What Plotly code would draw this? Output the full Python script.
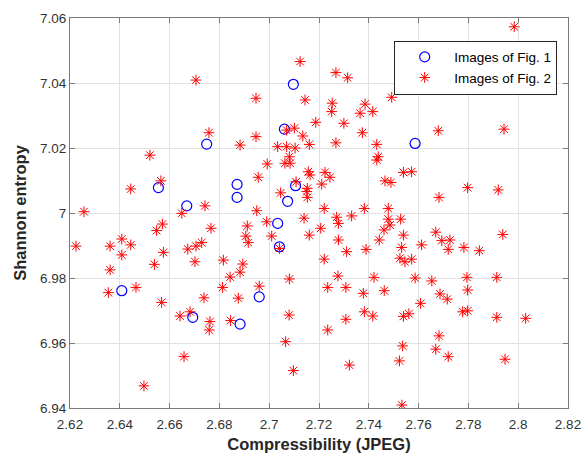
import plotly.graph_objects as go

# Images of Fig. 1 (blue circles)
fig1_x = [2.7097, 2.7061, 2.6749, 2.7586, 2.7106, 2.6555, 2.6871, 2.6871,
          2.7074, 2.6669, 2.7034, 2.7041, 2.6408, 2.6960, 2.6693, 2.6883]
fig1_y = [7.0396, 7.0258, 7.0212, 7.0214, 7.0084, 7.0078, 7.0088, 7.0048,
          7.0036, 7.0022, 6.9968, 6.9896, 6.9761, 6.9742, 6.9679, 6.9658]

# Images of Fig. 2 (red asterisks)
fig2_x = [2.6706, 2.6758, 2.7124, 2.7268, 2.7315, 2.7492, 2.6947, 2.7144, 2.7253, 2.7251,
          2.7385, 2.7365, 2.7416, 2.7187, 2.7300, 2.7101, 2.7070, 2.7374, 2.6947, 2.7135,
          2.6883, 2.7161, 2.7268, 2.7432, 2.7034, 2.7070, 2.7104, 2.7984, 2.7679, 2.7943,
          2.6521, 2.6565, 2.6444, 2.6256, 2.6649, 2.6742, 2.6571, 2.6548, 2.6766, 2.6224,
          2.6361, 2.6408, 2.6444, 2.6408, 2.6575, 2.6673, 2.6706, 2.6729, 2.6539, 2.6702,
          2.6816, 2.6361, 2.6843, 2.7081, 2.7063, 2.7084, 2.6992, 2.7438, 2.7432, 2.7157,
          2.7164, 2.7224, 2.7244, 2.6956, 2.7211, 2.7539, 2.7465, 2.7489, 2.7153, 2.7151,
          2.7046, 2.7153, 2.7108, 2.7221, 2.7382, 2.7478, 2.6950, 2.7140, 2.7271, 2.7278,
          2.7331, 2.7478, 2.7528, 2.6990, 2.6912, 2.7485, 2.7461, 2.7207, 2.7010, 2.6906,
          2.7161, 2.7539, 2.7442, 2.6916, 2.7278, 2.7041, 2.7389, 2.7311, 2.7532, 2.7525,
          2.7545, 2.7221, 2.6894, 2.6883, 2.7081, 2.7276, 2.7421, 2.7572, 2.7797, 2.7682,
          2.7920, 2.7669, 2.7938, 2.7612, 2.7693, 2.7726, 2.7719, 2.7782, 2.7844, 2.7572,
          2.7586, 2.7653, 2.7794, 2.7914, 2.6354, 2.6465, 2.6568, 2.6738, 2.6813, 2.6876,
          2.6642, 2.6682, 2.6762, 2.6759, 2.6845, 2.6658, 2.6497, 2.6960, 2.7080, 2.7066,
          2.7097, 2.7235, 2.7308, 2.7378, 2.7462, 2.7235, 2.7308, 2.7382, 2.7416, 2.7539,
          2.7561, 2.7322, 2.7536, 2.7523, 2.7533, 2.7797, 2.7686, 2.7715, 2.7608, 2.7777,
          2.7797, 2.7914, 2.8030, 2.7682, 2.7669, 2.7719, 2.7947]
fig2_y = [7.0409, 7.0247, 7.0466, 7.0432, 7.0416, 7.0356, 7.0353, 7.0348, 7.0338, 7.0312,
          7.0335, 7.0307, 7.0312, 7.0279, 7.0276, 7.0261, 7.0255, 7.0247, 7.0235, 7.0237,
          7.0209, 7.0211, 7.0216, 7.0211, 7.0204, 7.0204, 7.0200, 7.0573, 7.0253, 7.0258,
          7.0178, 7.0099, 7.0074, 7.0004, 6.9999, 7.0022, 6.9966, 6.9946, 6.9953, 6.9898,
          6.9898, 6.9920, 6.9902, 6.9871, 6.9879, 6.9889, 6.9898, 6.9909, 6.9842, 6.9850,
          6.9855, 6.9825, 6.9803, 7.0173, 7.0153, 7.0153, 7.0151, 7.0173, 7.0163, 7.0127,
          7.0117, 7.0125, 7.0110, 7.0110, 7.0089, 7.0125, 7.0099, 7.0094, 7.0076, 7.0066,
          7.0062, 7.0048, 7.0096, 7.0014, 7.0014, 7.0014, 7.0007, 6.9984, 6.9987, 6.9968,
          6.9991, 6.9981, 6.9981, 6.9973, 6.9960, 6.9963, 6.9948, 6.9953, 6.9929, 6.9929,
          6.9932, 6.9932, 6.9917, 6.9909, 6.9917, 6.9891, 6.9888, 6.9881, 6.9894, 6.9861,
          6.9850, 6.9858, 6.9843, 6.9818, 6.9797, 6.9806, 6.9802, 7.0127, 7.0078, 7.0048,
          7.0071, 6.9941, 6.9934, 6.9902, 6.9915, 6.9917, 6.9888, 6.9894, 6.9884, 6.9858,
          6.9800, 6.9791, 6.9802, 6.9802, 6.9755, 6.9771, 6.9725, 6.9739, 6.9771, 6.9738,
          6.9683, 6.9696, 6.9666, 6.9640, 6.9669, 6.9558, 6.9468, 6.9775, 6.9686, 6.9604,
          6.9515, 6.9771, 6.9771, 6.9753, 6.9761, 6.9640, 6.9673, 6.9696, 6.9683, 6.9682,
          6.9690, 6.9532, 6.9591, 6.9545, 6.9409, 6.9763, 6.9751, 6.9735, 6.9722, 6.9696,
          6.9699, 6.9679, 6.9676, 6.9622, 6.9581, 6.9558, 6.9550]

series_names = ["Images of Fig. 1", "Images of Fig. 2"]
x_range = [2.62, 2.82]
y_range = [6.94, 7.06]

fig = go.Figure()
fig.add_trace(go.Scatter(
    x=fig1_x, y=fig1_y, mode="markers", name=series_names[0],
    marker=dict(symbol="circle-open", size=10, color="rgb(0,0,255)",
                line=dict(width=1.2, color="rgb(0,0,255)")),
))
fig.add_trace(go.Scatter(
    x=fig2_x, y=fig2_y, mode="markers", name=series_names[1],
    marker=dict(symbol="asterisk-open", size=9, color="rgb(255,0,0)",
                line=dict(width=1, color="rgb(255,0,0)")),
))

FONT = "Liberation Sans, Arial"
axis_common = dict(
    showgrid=True, gridcolor="#e1e1e1", gridwidth=1,
    zeroline=False, showline=True, linecolor="#7a7a7a", linewidth=1,
    mirror="ticks", ticks="inside", ticklen=5, tickcolor="#7a7a7a",
    tickfont=dict(family=FONT, size=13.5, color="#333333"),
)

fig.update_xaxes(range=x_range, dtick=0.02, tick0=2.62, ticklabelstandoff=4,
                 title=dict(text="Compressibility (JPEG)", standoff=7,
                            font=dict(family=FONT, size=16.5,
                                      color="#262626", weight="bold")),
                 **axis_common)
fig.update_yaxes(range=y_range, dtick=0.02, tick0=6.94,
                 title=dict(text="Shannon entropy", standoff=9,
                            font=dict(family=FONT, size=16.5,
                                      color="#262626", weight="bold")),
                 **axis_common)

fig.update_layout(
    width=582, height=461,
    margin=dict(l=70, r=14, t=18, b=53, autoexpand=False),
    plot_bgcolor="white", paper_bgcolor="white",
    showlegend=True,
    legend=dict(x=0.651, y=0.942, xanchor="left", yanchor="top",
                bgcolor="white", bordercolor="#262626", borderwidth=1,
                itemwidth=49,
                font=dict(family=FONT, size=13.5, color="#000000"),
                tracegroupgap=0),
)

fig.write_html("out.html")
